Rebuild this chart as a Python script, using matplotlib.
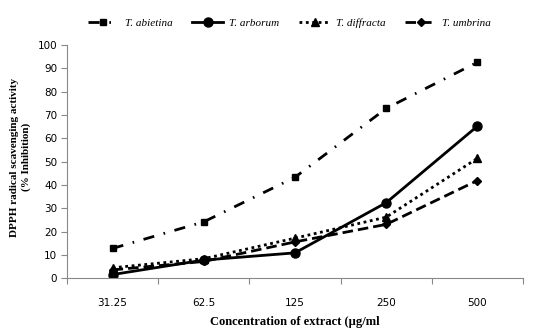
import matplotlib
matplotlib.use("Agg")
import matplotlib.pyplot as plt
import numpy as np

categories = ["31.25", "62.5", "125", "250", "500"]
abietina = [12.8, 24.2, 43.3, 72.8, 92.6]
arborum = [1.6, 7.8, 10.9, 32.4, 65.2]
diffracta = [4.5, 8.4, 17.2, 26.2, 51.4]
umbrina = [3.6, 7.2, 15.6, 23.1, 41.9]
series_names = ["T. abietina", "T. arborum", "T. diffracta", "T. umbrina"]

fig = plt.figure(figsize=(5.45, 3.33), dpi=100)
ax = fig.add_axes([0.1229, 0.1643, 0.8367, 0.7006])

x = np.arange(len(categories))
lw = 2.0
ax.plot(x, abietina, color="black", lw=lw, linestyle=(0, (4, 3.5, 0.6, 3.5)),
        marker="s", markersize=5, label=series_names[0])
ax.plot(x, arborum, color="black", lw=lw, linestyle="-",
        marker="o", markersize=6.5, label=series_names[1])
ax.plot(x, diffracta, color="black", lw=lw, linestyle=(0, (1, 1.3)),
        marker="^", markersize=6, label=series_names[2])
ax.plot(x, umbrina, color="black", lw=lw, linestyle=(0, (3.8, 1.8)),
        marker="D", markersize=4.5, label=series_names[3])

ax.set_xlim(-0.5, len(categories) - 0.5)
ax.set_ylim(0, 100)
ax.set_yticks(np.arange(0, 101, 10))
ax.set_xticks(np.arange(-0.5, len(categories), 1.0))
ax.set_xticklabels([])
ax.set_xticks(x, minor=True)
ax.set_xticklabels(categories, minor=True)
ax.tick_params(axis="x", which="minor", length=0, pad=14, labelsize=7.5)
ax.tick_params(axis="x", which="major", length=4, color="#888888", direction="out")
ax.tick_params(axis="y", length=4, color="#888888", labelsize=7.5, pad=3)

for s in ["top", "right"]:
    ax.spines[s].set_visible(False)
for s in ["left", "bottom"]:
    ax.spines[s].set_color("#888888")
    ax.spines[s].set_linewidth(0.8)

ax.set_ylabel("DPPH radical scavenging activity\n(% Inhibition)",
              family="Liberation Serif", fontweight="bold", fontsize=8, linespacing=1.3)
ax.yaxis.set_label_coords(-0.08, 0.52)
ax.set_xlabel("Concentration of extract (\u00b5g/ml", family="Liberation Serif",
              fontweight="bold", fontsize=9)
ax.xaxis.set_label_coords(0.5, -0.16)

leg = fig.legend(loc="center", bbox_to_anchor=(0.531, 0.931), ncol=4, frameon=False,
                 prop={"family": "Liberation Serif", "style": "italic", "size": 8},
                 handlelength=2.8, columnspacing=1.8, handletextpad=0.5)

fig.savefig("out.png", dpi=100)
